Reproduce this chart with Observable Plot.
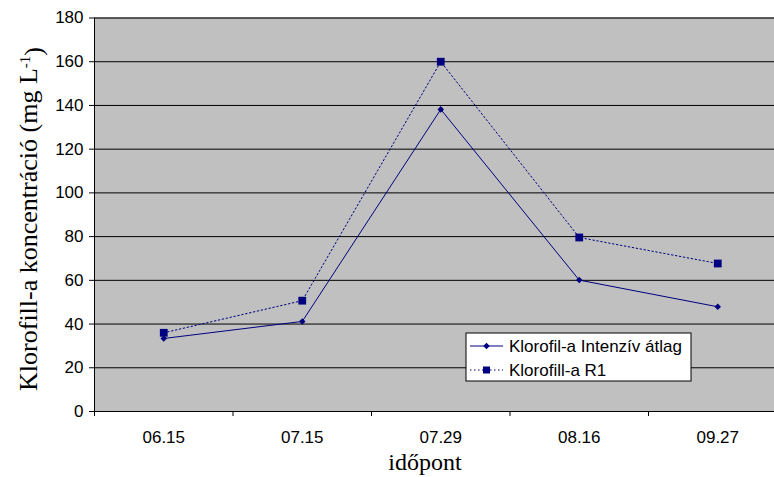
<!DOCTYPE html>
<html>
<head>
<meta charset="utf-8">
<script src="https://cdn.jsdelivr.net/npm/d3@7"></script>
<script src="https://cdn.jsdelivr.net/npm/@observablehq/plot@0.6"></script>
<style>
body { margin: 0; background: #fff; }
#chart { position: relative; width: 774px; height: 477px; overflow: hidden; }
</style>
</head>
<body>
<div id="chart"></div>
<script>
const dates = ["06.15", "07.15", "07.29", "08.16", "09.27"];
const intenziv = [33.4, 41.2, 138.2, 60.1, 47.9];
const r1 = [36.0, 50.7, 160.0, 79.6, 67.7];
const seriesNames = ["Klorofil-a Intenzív átlag", "Klorofill-a R1"];
const yTicks = [0, 20, 40, 60, 80, 100, 120, 140, 160, 180];

const idx = dates.map((d, i) => i);
const dataA = idx.map(i => ({i, v: intenziv[i]}));
const dataB = idx.map(i => ({i, v: r1[i]}));
const bounds = [-0.5, 0.5, 1.5, 2.5, 3.5, 4.5];
const navy = "#000080";
const sans = "'Liberation Sans', Arial, sans-serif";
const serif = "'Liberation Serif', 'Times New Roman', serif";

// square rotated 45° (Excel-style diamond)
const rhomb = {
  draw(context, size) {
    const h = Math.sqrt(size / 2);
    context.moveTo(0, -h);
    context.lineTo(h, 0);
    context.lineTo(0, h);
    context.lineTo(-h, 0);
    context.closePath();
  }
};

const plot = Plot.plot({
  width: 774,
  height: 477,
  marginLeft: 94,
  marginTop: 17.5,
  marginBottom: 66,
  marginRight: -12.5,
  style: {fontFamily: sans, fontSize: "17px", color: "#000", background: "#fff"},
  x: {domain: [-0.5, 4.5]},
  y: {domain: [0, 180]},
  marks: [
    Plot.frame({fill: "#c0c0c0", stroke: "#808080"}),
    Plot.ruleY(yTicks, {stroke: "#000", strokeWidth: 1}),
    Plot.ruleX([-0.5], {stroke: "#000"}),
    Plot.axisY({ticks: yTicks, tickSize: 5, tickPadding: 6, label: null, fontSize: 17}),
    Plot.axisX({ticks: bounds, tickSize: 5, tickFormat: () => "", label: null}),
    Plot.axisX({ticks: idx, tickSize: 0, tickPadding: 19, tickFormat: i => dates[i], label: null, fontSize: 17}),
    Plot.line(dataB, {x: "i", y: "v", stroke: navy, strokeWidth: 1, strokeDasharray: "1.5,2.5"}),
    Plot.line(dataA, {x: "i", y: "v", stroke: navy, strokeWidth: 1}),
    Plot.dot(dataB, {x: "i", y: "v", symbol: "square", r: 4.4, fill: navy, stroke: "none"}),
    Plot.dot(dataA, {x: "i", y: "v", symbol: rhomb, r: 2.6, fill: navy, stroke: "none"})
  ]
});

document.getElementById("chart").appendChild(plot);
const svg = d3.select(plot);

// axis titles
svg.append("text")
  .attr("x", 425).attr("y", 470)
  .attr("text-anchor", "middle")
  .style("font-family", serif).style("font-size", "24px")
  .text("időpont");

const yt = svg.append("text")
  .attr("transform", "translate(37,219) rotate(-90)")
  .attr("text-anchor", "middle")
  .style("font-family", serif).style("font-size", "26px");
yt.append("tspan").text("Klorofill-a koncentráció (mg L");
yt.append("tspan").attr("dy", "-0.45em").style("font-size", "15px").text("-1");
yt.append("tspan").attr("dy", "0.45em").text(")");

// legend
const lg = svg.append("g").attr("transform", "translate(466,333)");
lg.append("rect").attr("width", 225).attr("height", 48).attr("fill", "#fff").attr("stroke", "#000");
lg.append("line").attr("x1", 4).attr("x2", 37).attr("y1", 13).attr("y2", 13).attr("stroke", navy);
lg.append("path").attr("d", d3.symbol(rhomb, 21)()).attr("transform", "translate(20.5,13)").attr("fill", navy);
lg.append("line").attr("x1", 4).attr("x2", 37).attr("y1", 37).attr("y2", 37).attr("stroke", navy).attr("stroke-dasharray", "1.5,2.5");
lg.append("rect").attr("x", 17).attr("y", 33.5).attr("width", 7).attr("height", 7).attr("fill", navy);
lg.selectAll("text.lbl").data(seriesNames).join("text")
  .attr("x", 43).attr("y", (d, i) => 19 + i * 24)
  .attr("text-anchor", "start")
  .style("font-family", sans).style("font-size", "17px")
  .text(d => d);
</script>
</body>
</html>
